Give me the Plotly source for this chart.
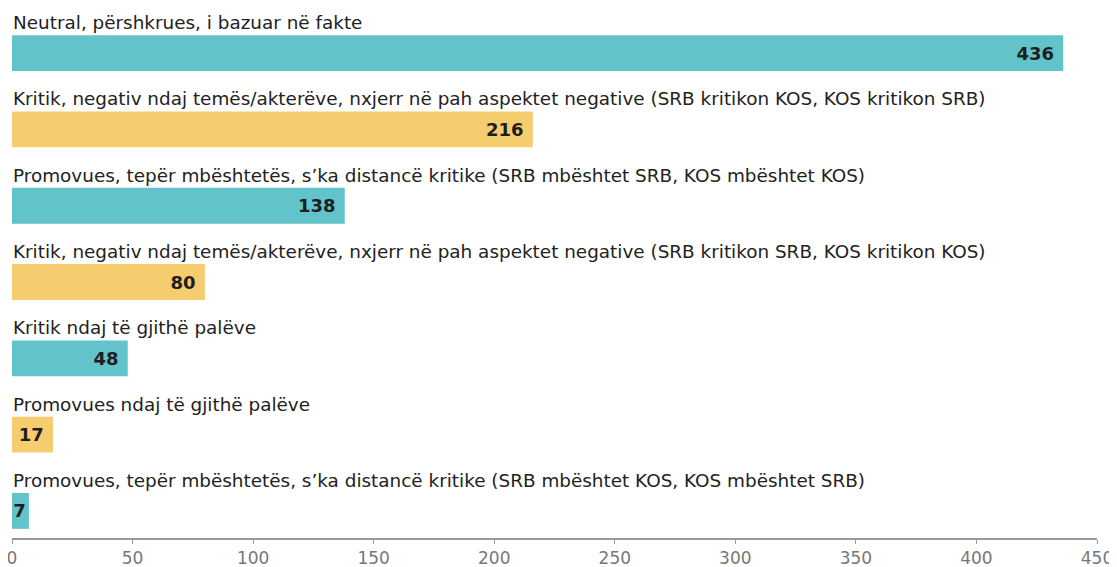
import plotly.graph_objects as go

categories = [
    'Neutral, përshkrues, i bazuar në fakte',
    'Kritik, negativ ndaj temës/akterëve, nxjerr në pah aspektet negative (SRB kritikon KOS, KOS kritikon SRB)',
    'Promovues, tepër mbështetës, s’ka distancë kritike (SRB mbështet SRB, KOS mbështet KOS)',
    'Kritik, negativ ndaj temës/akterëve, nxjerr në pah aspektet negative (SRB kritikon SRB, KOS kritikon KOS)',
    'Kritik ndaj të gjithë palëve',
    'Promovues ndaj të gjithë palëve',
    'Promovues, tepër mbështetës, s’ka distancë kritike (SRB mbështet KOS, KOS mbështet SRB)',
]
values = [436, 216, 138, 80, 48, 17, 7]
x_ticks = [0, 50, 100, 150, 200, 250, 300, 350, 400, 450]

TEAL = '#63c3cb'
YELLOW = '#f6cd6e'
colors = [TEAL if i % 2 == 0 else YELLOW for i in range(len(values))]
FONT = 'DejaVu Sans, sans-serif'

# a bit of padding after the number, except on the tiny bar
bar_text = [f'{v}\u00a0' if v >= 10 else str(v) for v in values]

fig = go.Figure()
fig.add_trace(go.Bar(
    x=values, y=list(range(len(values))), orientation='h',
    marker=dict(color=colors, line=dict(width=0)),
    width=0.47,
    text=bar_text,
    textposition='inside', insidetextanchor='end',
    textfont=dict(family=FONT, size=18, color='#1e1e1e', weight='bold'),
    hoverinfo='skip',
))

# category labels sit above each bar
for i, c in enumerate(categories):
    fig.add_annotation(x=0, y=i, text=c, showarrow=False,
                       xanchor='left', yanchor='bottom', xshift=-1, yshift=18,
                       font=dict(family=FONT, size=18.4, color='#222'))

# page body has an 8px margin, so the figure is a bit smaller and margins shifted
fig.update_layout(
    width=1109, height=559,
    margin=dict(l=4, r=20, t=7, b=29, autoexpand=False),
    plot_bgcolor='white', paper_bgcolor='white',
    showlegend=False,
    uniformtext=dict(minsize=18, mode='show'),
    xaxis=dict(range=[0, 450], tickvals=x_ticks, showgrid=False, zeroline=False,
               showline=True, linecolor='#999', linewidth=1.5,
               ticks='outside', ticklen=4, tickcolor='#999', automargin=False,
               ticklabeloverflow='allow',
               tickfont=dict(family=FONT, size=17, color='#777')),
    yaxis=dict(range=[6.355, -0.5], showticklabels=False, showgrid=False,
               zeroline=False, showline=False, automargin=False),
)

fig.write_html('out.html')
